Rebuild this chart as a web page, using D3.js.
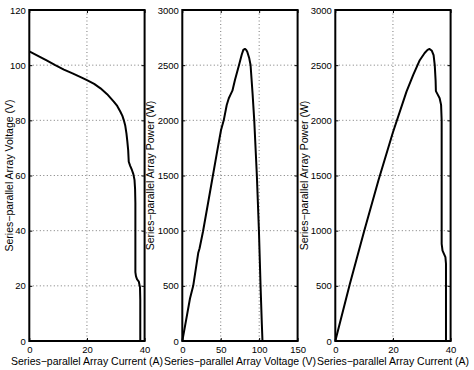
<!DOCTYPE html>
<html>
<head>
<meta charset="utf-8">
<script src="https://cdn.jsdelivr.net/npm/d3@7"></script>
<style>
  body { margin: 0; background: #fff; }
  svg { display: block; font-family: "Liberation Sans", Arial, Helvetica, sans-serif; }
</style>
</head>
<body>
<svg width="474" height="370"></svg>
<script>
// ---- data ----
// panel 1: voltage vs current
var ivCurrent = [0, 3, 6, 9, 12, 15, 18, 20, 22.5, 24.7, 27, 29.3, 30.5, 31.6, 32.3, 32.8, 33.3, 33.7, 34.0, 34.3, 34.5, 35.0, 35.6, 36.1, 36.5, 36.7, 36.8, 36.8, 37.0, 37.4, 38.0, 38.4, 38.5, 38.5];
var ivVoltage = [105, 103.4, 101.7, 100, 98.4, 97, 95.6, 94.6, 93.2, 91.6, 89.5, 86.8, 85.2, 83.1, 81.6, 80, 78, 75.3, 72.5, 69.2, 65, 63.5, 62, 60.5, 58.4, 55, 50, 25, 23.5, 22.3, 21.5, 19.5, 15, 0];

// panel 2: power vs voltage
var pvVoltage = [0, 5, 10, 14.2, 20.7, 22.5, 27, 33, 39.3, 44.9, 50.4, 53.9, 57.8, 60.5, 63.2, 65.2, 68.5, 73.8, 77.2, 79.4, 81.5, 83, 84.5, 87.1, 88.8, 91.4, 93.6, 97, 99.7, 101.8, 103.5, 104.3];
var pvPower = [0, 192, 385, 500, 797, 840, 995, 1230, 1480, 1701, 1912, 2000, 2139, 2200, 2240, 2269, 2366, 2502, 2592, 2638, 2647, 2640, 2622, 2562, 2502, 2245, 2000, 1500, 1000, 500, 150, 0];

// panel 3: power vs current
var piCurrent = [0, 5, 10, 15, 20, 24.7, 27, 29.3, 31, 32, 32.7, 33.5, 34.1, 34.5, 34.8, 34.9, 35.5, 36.2, 36.7, 36.9, 36.9, 37.2, 37.7, 38.2, 38.4, 38.4];
var piPower = [0, 512, 995, 1460, 1892, 2260, 2410, 2545, 2610, 2638, 2647, 2630, 2590, 2500, 2360, 2265, 2235, 2200, 2140, 2000, 880, 820, 790, 760, 700, 0];

var currentTicks = [0, 20, 40];
var voltageTicks = [0, 50, 100, 150];
var voltageYTicks = [0, 20, 40, 60, 80, 100, 120];
var powerTicks = [0, 500, 1000, 1500, 2000, 2500, 3000];

var xLabels = ["Series\u2212parallel Array Current (A)", "Series\u2212parallel Array Voltage (V)", "Series\u2212parallel Array Current (A)"];
var yLabels = ["Series\u2212parallel Array Voltage (V)", "Series\u2212parallel Array Power (W)", "Series\u2212parallel Array Power (W)"];

// ---- layout ----
var plotTop = 10, plotBottom = 341;
var h = plotBottom - plotTop;
var w = 115.3;

var panels = [
  { left: 29.3,  xs: ivCurrent, ys: ivVoltage, xmax: 40,  ymax: 120,  xt: currentTicks, yt: voltageYTicks, ylabX: -16.8 },
  { left: 182.3, xs: pvVoltage, ys: pvPower,   xmax: 150, ymax: 3000, xt: voltageTicks, yt: powerTicks,    ylabX: -28.3 },
  { left: 335.3, xs: piCurrent, ys: piPower,   xmax: 40,  ymax: 3000, xt: currentTicks, yt: powerTicks,    ylabX: -27.8 }
];

var svg = d3.select("svg");
var fmt = d3.format("d");

panels.forEach(function(p, i) {
  var x = d3.scaleLinear().domain([0, p.xmax]).range([0, w]);
  var y = d3.scaleLinear().domain([0, p.ymax]).range([h, 0]);

  var g = svg.append("g").attr("transform", "translate(" + p.left + "," + plotTop + ")");

  // dotted grid
  g.selectAll(".gx").data(p.xt.slice(1, -1)).enter().append("line")
    .attr("x1", d => x(d)).attr("x2", d => x(d))
    .attr("y1", 0).attr("y2", h)
    .attr("stroke", "#555").attr("stroke-width", 0.8)
    .attr("stroke-dasharray", "1,2.5");
  g.selectAll(".gy").data(p.yt.slice(1, -1)).enter().append("line")
    .attr("x1", 0).attr("x2", w)
    .attr("y1", d => y(d)).attr("y2", d => y(d))
    .attr("stroke", "#555").attr("stroke-width", 0.8)
    .attr("stroke-dasharray", "1,2.5");

  // curve
  var pts = p.xs.map(function(v, j) { return [v, p.ys[j]]; });
  var line = d3.line().x(d => x(d[0])).y(d => y(d[1]));
  g.append("path")
    .attr("d", line(pts))
    .attr("fill", "none")
    .attr("stroke", "#000")
    .attr("stroke-width", 2)
    .attr("stroke-linejoin", "round");

  // axes, ticks pointing inward on all four sides
  var ax = g.append("g").attr("transform", "translate(0," + h + ")")
    .call(d3.axisBottom(x).tickValues(p.xt).tickFormat(fmt).tickSize(-3).tickPadding(5.5));
  var ay = g.append("g")
    .call(d3.axisLeft(y).tickValues(p.yt).tickFormat(fmt).tickSize(-3).tickPadding(3.5));
  var at = g.append("g")
    .call(d3.axisTop(x).tickValues(p.xt).tickSize(-3).tickFormat(""));
  var ar = g.append("g").attr("transform", "translate(" + w + ",0)")
    .call(d3.axisRight(y).tickValues(p.yt).tickSize(-3).tickFormat(""));

  [ax, ay, at, ar].forEach(function(a) {
    a.select(".domain").remove();
    a.selectAll(".tick line").attr("stroke", "#000").attr("stroke-width", 1);
    a.selectAll("text").attr("font-size", 9.5).attr("fill", "#000")
      .style("font-family", "'Liberation Sans', Arial, Helvetica, sans-serif");
  });

  // frame
  g.append("rect")
    .attr("width", w).attr("height", h)
    .attr("fill", "none").attr("stroke", "#000").attr("stroke-width", 2);

  // labels
  g.append("text")
    .attr("x", w / 2).attr("y", 365 - plotTop)
    .attr("text-anchor", "middle")
    .attr("font-size", 10.5)
    .text(xLabels[i]);

  g.append("text")
    .attr("transform", "translate(" + p.ylabX + "," + (h / 2) + ") rotate(-90)")
    .attr("text-anchor", "middle")
    .attr("font-size", 10.5)
    .text(yLabels[i]);
});
</script>
</body>
</html>
